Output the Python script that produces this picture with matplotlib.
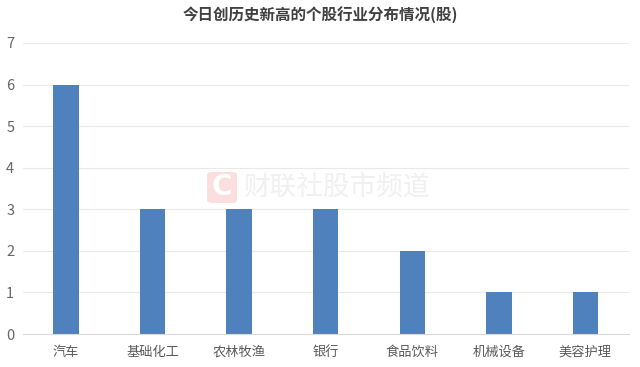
import matplotlib
matplotlib.use("Agg")
import matplotlib.pyplot as plt
from matplotlib.patches import FancyBboxPatch

plt.rcParams["font.family"] = ["Noto Sans CJK SC", "DejaVu Sans"]

categories = ["汽车", "基础化工", "农林牧渔", "银行", "食品饮料", "机械设备", "美容护理"]
values = [6, 3, 3, 3, 2, 1, 1]
yticks = [0, 1, 2, 3, 4, 5, 6, 7]

fig = plt.figure(figsize=(6.4, 3.67), dpi=100)
ax = fig.add_axes([22.7 / 640, 1 - 334 / 367, 606 / 640, 291 / 367])

ax.bar(range(len(values)), values, width=0.295, color="#4f81bd", zorder=2)
ax.set_xlim(-0.5, 6.5)
ax.set_ylim(0, 7)
ax.set_yticks(yticks)
ax.set_xticks(range(len(categories)))
ax.set_xticklabels(categories)
ax.tick_params(axis="both", length=0, labelsize=9.5, labelcolor="#595959")
ax.tick_params(axis="x", pad=15.5)
ax.tick_params(axis="y", labelsize=10.5, pad=6, labelcolor="#666666")
# same baseline for all category labels
for label in ax.get_xticklabels():
    label.set_verticalalignment("baseline")
ax.grid(axis="y", color="#e9e9e9", linewidth=0.8, zorder=0)
for side in ["top", "right", "left"]:
    ax.spines[side].set_visible(False)
ax.spines["bottom"].set_color("#d9d9d9")

fig.text(0.5, 1 - 15 / 367, "今日创历史新高的个股行业分布情况(股)", ha="center", va="center",
         fontsize=11.2, fontweight="bold", color="#404040")

# watermark
logo = FancyBboxPatch((207 / 640, 1 - 203 / 367), 30 / 640, 31 / 367,
                      boxstyle="round,pad=0,rounding_size=0.008",
                      transform=fig.transFigure, facecolor="#fbdfdf", edgecolor="none", zorder=3)
fig.add_artist(logo)
fig.text(222 / 640, 1 - 187 / 367, "C", ha="center", va="center", fontsize=20,
         fontweight="bold", family="DejaVu Sans", color="white", zorder=4)
fig.text(243 / 640, 1 - 187 / 367, "财联社股市频道", ha="left", va="center", fontsize=19.2,
         color="#f0f0f0", zorder=4)

fig.savefig("out.png", dpi=100)
